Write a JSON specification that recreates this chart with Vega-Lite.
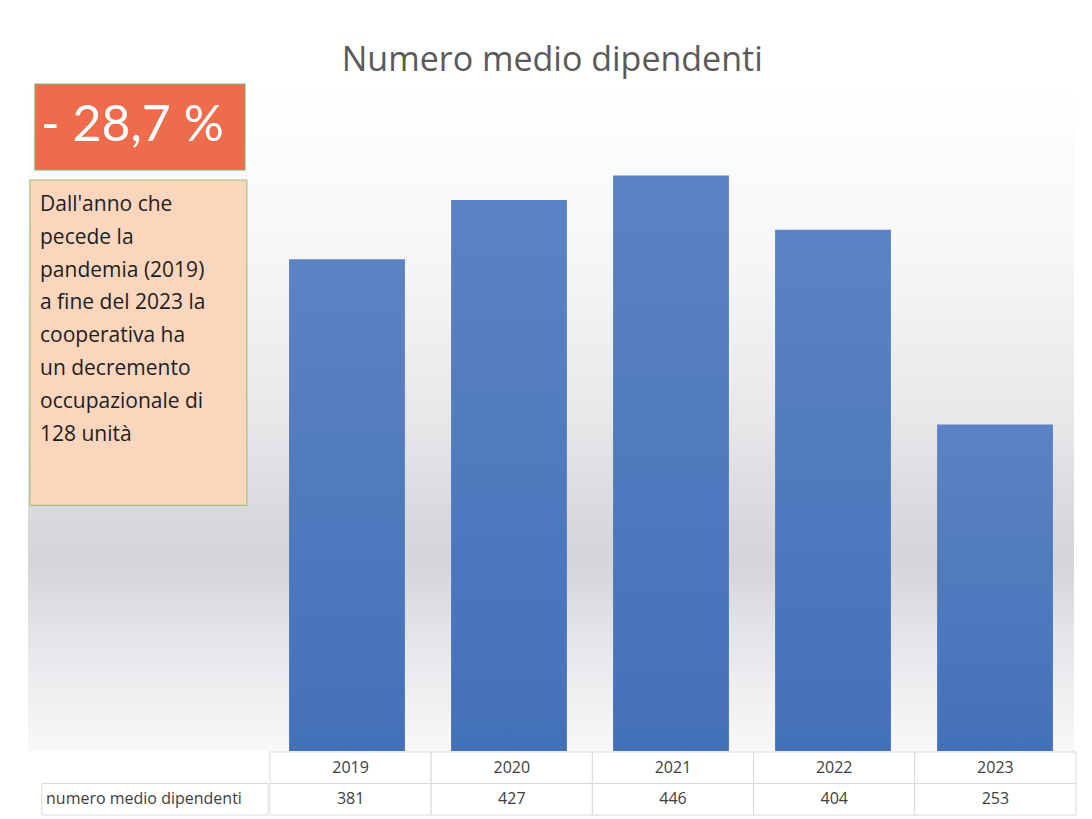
{
  "$schema": "https://vega.github.io/schema/vega-lite/v6.json",
  "background": "white",
  "padding": {"left": 28, "top": 44, "right": 18, "bottom": 0},
  "config": {"view": {"stroke": null}, "concat": {"spacing": 0}},
  "title": {"text": "Numero medio dipendenti", "anchor": "middle", "font": "Open Sans", "fontSize": 34, "fontWeight": "normal", "color": "#5a5a5a", "offset": 2},
  "datasets": {
    "main": [
      {"anno": "2019", "valore": 381},
      {"anno": "2020", "valore": 427},
      {"anno": "2021", "valore": 446},
      {"anno": "2022", "valore": 404},
      {"anno": "2023", "valore": 253}
    ],
    "boxes": [
      {"box": "perc", "x0": 0.029, "x1": 0.904, "y0": 0.006, "y1": 0.134},
      {"box": "testo", "x0": 0.008, "x1": 0.912, "y0": 0.149, "y1": 0.634}
    ],
    "one": [{}]
  },
  "spacing": 0,
  "vconcat": [
    {
      "spacing": 0,
      "hconcat": [
        {
          "width": 240,
          "height": 671,
          "layer": [
            {
              "data": {"name": "one"},
              "mark": {"type": "rect", "color": {"gradient": "linear", "x1": 0, "y1": 0, "x2": 0, "y2": 1, "stops": [
                {"offset": 0, "color": "#ffffff"},
                {"offset": 0.25, "color": "#f7f7f9"},
                {"offset": 0.5, "color": "#e8e8eb"},
                {"offset": 0.64, "color": "#dadade"},
                {"offset": 0.72, "color": "#d5d5d9"},
                {"offset": 0.82, "color": "#e3e4e7"},
                {"offset": 0.92, "color": "#f0f0f3"},
                {"offset": 1, "color": "#f8f8fa"}
              ]}},
              "encoding": {}
            },
            {
              "data": {"name": "boxes"},
              "mark": {"type": "rect", "strokeWidth": 1.2, "clip": false},
              "encoding": {
                "x": {"field": "x0", "type": "quantitative", "scale": {"domain": [0, 1], "nice": false, "zero": false}, "axis": null},
                "x2": {"field": "x1"},
                "y": {"field": "y0", "type": "quantitative", "scale": {"domain": [0, 1], "nice": false, "zero": false, "reverse": true}, "axis": null},
                "y2": {"field": "y1"},
                "fill": {"field": "box", "type": "nominal", "scale": {"domain": ["perc", "testo"], "range": ["#ee6c4b", "#fcd5bd"]}, "legend": null},
                "stroke": {"field": "box", "type": "nominal", "scale": {"domain": ["perc", "testo"], "range": ["#8fa86a", "#a6c27a"]}, "legend": null}
              }
            },
            {
              "data": {"name": "one"},
              "mark": {"type": "text", "text": "- 28,7 %", "font": "Lato", "fontSize": 50, "color": "#ffffff", "align": "center", "baseline": "middle"},
              "encoding": {
                "x": {"datum": 0.435, "type": "quantitative"},
                "y": {"datum": 0.069, "type": "quantitative"}
              }
            },
            {
              "data": {"name": "one"},
              "mark": {"type": "text", "text": ["Dall'anno che", "pecede la", "pandemia (2019)", "a fine del 2023 la", "cooperativa ha", "un decremento", "occupazionale di", "128 unità"], "font": "Open Sans", "fontSize": 21, "lineHeight": 32.8, "color": "#1e1e1e", "align": "left", "baseline": "top"},
              "encoding": {
                "x": {"datum": 0.05, "type": "quantitative"},
                "y": {"datum": 0.17, "type": "quantitative"}
              }
            }
          ],
          "resolve": {"scale": {"fill": "independent", "stroke": "independent"}}
        },
        {
          "width": 806,
          "height": 671,
          "layer": [
            {
              "data": {"name": "one"},
              "mark": {"type": "rect", "color": {"gradient": "linear", "x1": 0, "y1": 0, "x2": 0, "y2": 1, "stops": [
                {"offset": 0, "color": "#ffffff"},
                {"offset": 0.25, "color": "#f7f7f9"},
                {"offset": 0.5, "color": "#e8e8eb"},
                {"offset": 0.64, "color": "#dadade"},
                {"offset": 0.72, "color": "#d5d5d9"},
                {"offset": 0.82, "color": "#e3e4e7"},
                {"offset": 0.92, "color": "#f0f0f3"},
                {"offset": 1, "color": "#f8f8fa"}
              ]}},
              "encoding": {}
            },
            {
              "data": {"name": "main"},
              "mark": {"type": "bar", "color": {"gradient": "linear", "x1": 0, "y1": 0, "x2": 0, "y2": 1, "stops": [
                {"offset": 0, "color": "#5b83c4"},
                {"offset": 1, "color": "#4371b8"}
              ]}},
              "encoding": {
                "x": {"field": "anno", "type": "ordinal", "scale": {"paddingInner": 0.285, "paddingOuter": 0.13}, "axis": null},
                "y": {"field": "valore", "type": "quantitative", "scale": {"domain": [0, 520], "nice": false}, "axis": null}
              }
            }
          ]
        }
      ]
    },
    {
      "spacing": 0,
      "hconcat": [
        {
          "width": 240,
          "height": 63,
          "data": {"name": "one"},
          "layer": [
            {
              "mark": {"type": "rect", "fill": "#ffffff", "stroke": "#d9d9d9", "strokeWidth": 1},
              "encoding": {
                "x": {"datum": 0.058, "type": "quantitative", "scale": {"domain": [0, 1], "nice": false, "zero": false}, "axis": null},
                "x2": {"datum": 1},
                "y": {"datum": "r2", "type": "nominal", "scale": {"domain": ["r1", "r2"], "paddingInner": 0, "paddingOuter": 0}, "axis": null}
              }
            },
            {
              "mark": {"type": "text", "text": "numero medio dipendenti", "font": "Open Sans", "fontSize": 16, "color": "#404040", "align": "left", "baseline": "middle"},
              "encoding": {
                "x": {"datum": 0.075, "type": "quantitative"},
                "y": {"datum": "r2", "type": "nominal", "scale": {"domain": ["r1", "r2"]}, "band": 0.5}
              }
            }
          ]
        },
        {
          "width": 806,
          "height": 63,
          "data": {"name": "main"},
          "encoding": {
            "x": {"field": "anno", "type": "ordinal", "scale": {"paddingInner": 0, "paddingOuter": 0}, "axis": null}
          },
          "layer": [
            {
              "mark": {"type": "rect", "fill": "#ffffff", "stroke": "#d9d9d9", "strokeWidth": 1},
              "encoding": {
                "y": {"datum": "r1", "type": "nominal", "scale": {"domain": ["r1", "r2"], "paddingInner": 0, "paddingOuter": 0}, "axis": null}
              }
            },
            {
              "mark": {"type": "rect", "fill": "#ffffff", "stroke": "#d9d9d9", "strokeWidth": 1},
              "encoding": {
                "y": {"datum": "r2", "type": "nominal"}
              }
            },
            {
              "mark": {"type": "text", "font": "Open Sans", "fontSize": 16, "color": "#404040", "align": "center", "baseline": "middle"},
              "encoding": {
                "text": {"field": "anno"},
                "y": {"datum": "r1", "type": "nominal", "band": 0.5}
              }
            },
            {
              "mark": {"type": "text", "font": "Open Sans", "fontSize": 16, "color": "#404040", "align": "center", "baseline": "middle"},
              "encoding": {
                "text": {"field": "valore"},
                "y": {"datum": "r2", "type": "nominal", "band": 0.5}
              }
            }
          ]
        }
      ]
    }
  ]
}
